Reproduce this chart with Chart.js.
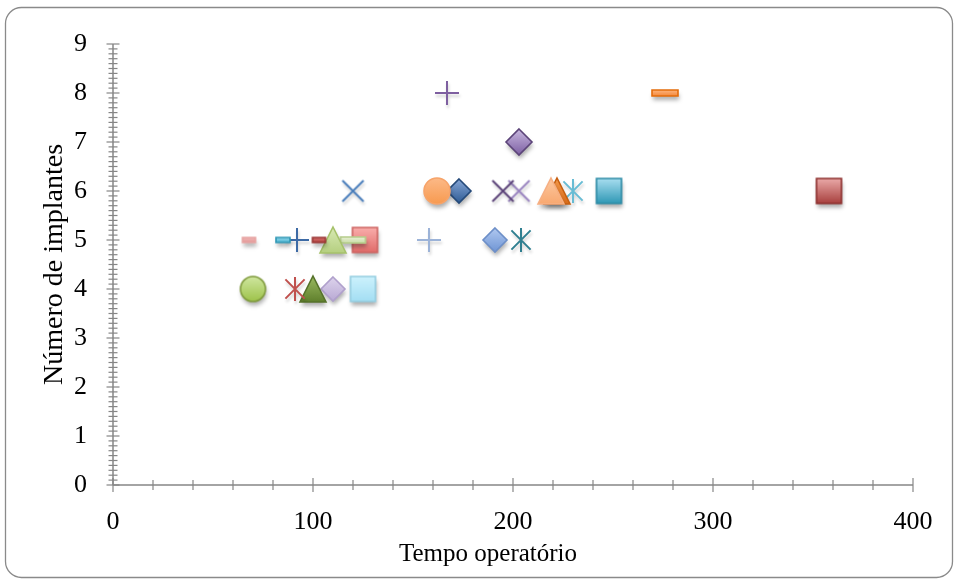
<!DOCTYPE html>
<html>
<head>
<meta charset="utf-8">
<script src="https://cdn.jsdelivr.net/npm/chart.js@4.4.1/dist/chart.umd.min.js"></script>
<style>
  html, body { margin: 0; padding: 0; background: #fff; }
  #wrap { position: relative; width: 959px; height: 581px; }
</style>
</head>
<body>
<div id="wrap"><canvas id="c" width="959" height="581"></canvas></div>
<script>
// Tempo operatório (min) and número de implantes, one point per case
const tempoOperatorio = [167, 276, 203, 120, 162, 173, 195, 203, 219, 222, 230, 248, 358,
                         68, 85, 92, 103, 110, 120, 126, 158, 191, 204,
                         70, 91, 100, 110, 125];
const numeroImplantes = [8, 8, 7, 6, 6, 6, 6, 6, 6, 6, 6, 6, 6,
                         5, 5, 5, 5, 5, 5, 5, 5, 5, 5,
                         4, 4, 4, 4, 4];

// Axis ranges and tick steps
const xRange = [0, 400], xMajor = 100, xMinor = 20;
const yRange = [0, 9], yMajor = 1, yMinorPerMajor = 10;

const xTitle = 'Tempo operatório';
const yTitle = 'Número de implantes';

// Marker look for each point (shape, size, gradient fill, outline)
const markerStyles = [
  {shape: 'plus', size: 24, stroke: '#7e5fa0'},
  {shape: 'dash', w: 26, h: 6, c1: '#fcb47e', c2: '#f5883a', stroke: '#e46c0a'},
  {shape: 'diamond', size: 26, c1: '#c8b8df', c2: '#7d5fa3', stroke: '#5c4479'},
  {shape: 'x', size: 23, stroke: '#4a7ebb'},
  {shape: 'circle', size: 26, c1: '#fcb987', c2: '#f79a50', stroke: '#f7a46a'},
  {shape: 'diamond', size: 24, c1: '#86a6d6', c2: '#2f5c95', stroke: '#254a7a'},
  {shape: 'x', size: 23, stroke: '#5c4479'},
  {shape: 'x', size: 23, stroke: '#9a85c0'},
  {shape: 'triangle', size: 26, c1: '#fcc8a0', c2: '#f8a870', stroke: '#f6b084'},
  {shape: 'triangle', size: 26, c1: '#f59a4c', c2: '#d86b18', stroke: '#c65f10'},
  {shape: 'asterisk', size: 24, stroke: '#68bcd4'},
  {shape: 'square', size: 25, c1: '#a8def0', c2: '#2f98b5', stroke: '#2c8aa5'},
  {shape: 'square', size: 25, c1: '#eaa9a8', c2: '#a8403e', stroke: '#8c2f2d'},
  {shape: 'dash', w: 13, h: 5, c1: '#f0b8b8', c2: '#e39896', stroke: '#e6a3a1'},
  {shape: 'dash', w: 14, h: 5, c1: '#95d8ec', c2: '#49b3d0', stroke: '#2f97b4'},
  {shape: 'plus', size: 24, stroke: '#3d6aa5'},
  {shape: 'dash', w: 13, h: 5, c1: '#d87270', c2: '#b0403e', stroke: '#983533'},
  {shape: 'triangle', size: 26, c1: '#d8e9b4', c2: '#b5cf80', stroke: '#a6c26b'},
  {shape: 'dash', w: 25, h: 6, c1: '#e8f1d6', c2: '#c8dca5', stroke: '#b5cd8a'},
  {shape: 'square', size: 25, c1: '#f9aeac', c2: '#e06b69', stroke: '#cd6462'},
  {shape: 'plus', size: 24, stroke: '#9cb3d8'},
  {shape: 'diamond', size: 24, c1: '#b0c8f0', c2: '#6f95d4', stroke: '#6d8fc8'},
  {shape: 'asterisk', size: 24, stroke: '#2f7f90'},
  {shape: 'circle', size: 25, c1: '#d0e7a0', c2: '#9dc24a', stroke: '#7f9a3c'},
  {shape: 'asterisk', size: 24, stroke: '#c0504d'},
  {shape: 'triangle', size: 26, c1: '#9aba60', c2: '#5f7f2c', stroke: '#56722a'},
  {shape: 'diamond', size: 24, c1: '#ddd3ec', c2: '#b9a9d4', stroke: '#b0a0cc'},
  {shape: 'square', size: 25, c1: '#cdf2fd', c2: '#a3def3', stroke: '#94cde0'}
];

// Build a small canvas sprite for a marker, with a soft drop shadow
function makeMarker(m) {
  const pad = 9;
  const w = m.w || m.size, h = m.h || m.size;
  const cv = document.createElement('canvas');
  cv.width = w + pad * 2;
  cv.height = h + pad * 2;
  const g = cv.getContext('2d');
  const cx = cv.width / 2, cy = cv.height / 2;
  const hw = w / 2, hh = h / 2;

  const path = () => {
    g.beginPath();
    switch (m.shape) {
      case 'square':
      case 'dash':
        g.rect(cx - hw, cy - hh, w, h); break;
      case 'circle':
        g.arc(cx, cy, hw, 0, Math.PI * 2); break;
      case 'diamond':
        g.moveTo(cx, cy - hh); g.lineTo(cx + hw, cy); g.lineTo(cx, cy + hh); g.lineTo(cx - hw, cy); g.closePath(); break;
      case 'triangle':
        g.moveTo(cx, cy - hh); g.lineTo(cx + hw, cy + hh); g.lineTo(cx - hw, cy + hh); g.closePath(); break;
      case 'plus':
        g.moveTo(cx - hw, cy); g.lineTo(cx + hw, cy); g.moveTo(cx, cy - hh); g.lineTo(cx, cy + hh); break;
      case 'x': {
        const d = hw * 0.92;
        g.moveTo(cx - d, cy - d); g.lineTo(cx + d, cy + d); g.moveTo(cx + d, cy - d); g.lineTo(cx - d, cy + d); break;
      }
      case 'asterisk': {
        const d = hw * 0.8;
        g.moveTo(cx, cy - hh); g.lineTo(cx, cy + hh);
        g.moveTo(cx - d, cy - d); g.lineTo(cx + d, cy + d); g.moveTo(cx + d, cy - d); g.lineTo(cx - d, cy + d); break;
      }
    }
  };

  const lineOnly = ['plus', 'x', 'asterisk'].includes(m.shape);
  if (lineOnly) {
    g.shadowColor = 'rgba(0,0,0,0.18)';
    g.shadowBlur = 3; g.shadowOffsetX = 1; g.shadowOffsetY = 3;
    g.strokeStyle = m.stroke; g.lineWidth = 2; g.lineCap = 'butt';
    path(); g.stroke();
  } else {
    g.shadowColor = 'rgba(0,0,0,0.32)';
    g.shadowBlur = 4; g.shadowOffsetX = 1; g.shadowOffsetY = 4;
    const grad = g.createLinearGradient(0, cy - hh, 0, cy + hh);
    grad.addColorStop(0, m.c1); grad.addColorStop(1, m.c2);
    g.fillStyle = grad;
    path(); g.fill();
    g.shadowColor = 'transparent';
    g.strokeStyle = m.stroke; g.lineWidth = 1.6;
    path(); g.stroke();
  }
  return cv;
}

const serif = "'Liberation Serif', 'DejaVu Serif', serif";
const tickFont = {family: serif, size: 26};

// Rounded outer frame of the chart
const framePlugin = {
  id: 'frame',
  beforeDraw(chart) {
    const g = chart.ctx;
    g.save();
    g.fillStyle = '#fff';
    g.fillRect(0, 0, chart.width, chart.height);
    g.strokeStyle = '#8a8a8a'; g.lineWidth = 1.3;
    g.beginPath();
    g.roundRect(5.5, 7.5, 947, 570, 16);
    g.stroke();
    g.restore();
  }
};

// Axis lines with tick marks crossing the axis, plus the horizontal axis title
const axesPlugin = {
  id: 'crossAxes',
  beforeDatasetsDraw(chart) {
    const {ctx: g, scales: {x, y}, chartArea: a} = chart;
    const x0 = x.getPixelForValue(xRange[0]);
    const y0 = y.getPixelForValue(yRange[0]);
    g.save();
    g.strokeStyle = '#868686'; g.lineWidth = 1.5;
    const seg = (x1, y1, x2, y2) => { g.beginPath(); g.moveTo(x1, y1); g.lineTo(x2, y2); g.stroke(); };
    seg(a.left, y0, a.right, y0);
    seg(x0, a.top, x0, a.bottom);
    g.lineWidth = 1.2;
    const nx = (xRange[1] - xRange[0]) / xMinor;
    for (let k = 0; k <= nx; k++) {
      const v = xRange[0] + k * xMinor;
      const px = x.getPixelForValue(v);
      const len = (v % xMajor === 0) ? 7 : 5;
      seg(px, y0 - len, px, y0 + len);
    }
    const ny = (yRange[1] - yRange[0]) * yMinorPerMajor;
    for (let k = 0; k <= ny; k++) {
      const v = yRange[0] + k / yMinorPerMajor;
      const py = y.getPixelForValue(v);
      const len = (k % yMinorPerMajor === 0) ? 6.5 : 4.5;
      seg(x0 - len, py, x0 + len, py);
    }
    // horizontal axis title, centred on the chart frame
    g.fillStyle = '#000';
    g.font = '25px ' + serif;
    g.textAlign = 'center';
    g.textBaseline = 'middle';
    g.fillText(xTitle, 488, 554);
    g.restore();
  }
};

const datasets = tempoOperatorio.map((t, i) => ({
  label: 'Caso ' + (i + 1),
  data: [{x: t, y: numeroImplantes[i]}],
  pointStyle: makeMarker(markerStyles[i]),
  pointRadius: 12,
  showLine: false
}));

new Chart(document.getElementById('c'), {
  type: 'scatter',
  data: {datasets},
  options: {
    responsive: false,
    devicePixelRatio: 1,
    animation: false,
    events: [],
    layout: {padding: {left: 0, top: 44, right: 46, bottom: 0}},
    plugins: {legend: {display: false}, tooltip: {enabled: false}},
    scales: {
      x: {
        type: 'linear', min: xRange[0], max: xRange[1],
        afterFit: s => { s.height = 96; },
        grid: {display: false, drawTicks: false},
        border: {display: false},
        ticks: {stepSize: xMajor, color: '#000', font: tickFont, padding: 22, maxRotation: 0},
        title: {display: false}
      },
      y: {
        type: 'linear', min: yRange[0], max: yRange[1],
        afterFit: s => { s.width = 113; },
        grid: {display: false, drawTicks: false},
        border: {display: false},
        ticks: {stepSize: yMajor, color: '#000', font: tickFont, padding: 26},
        title: {display: true, text: yTitle, color: '#000', font: {family: serif, size: 28}, padding: {top: 38, bottom: 0}}
      }
    }
  },
  plugins: [framePlugin, axesPlugin]
});
</script>
</body>
</html>
